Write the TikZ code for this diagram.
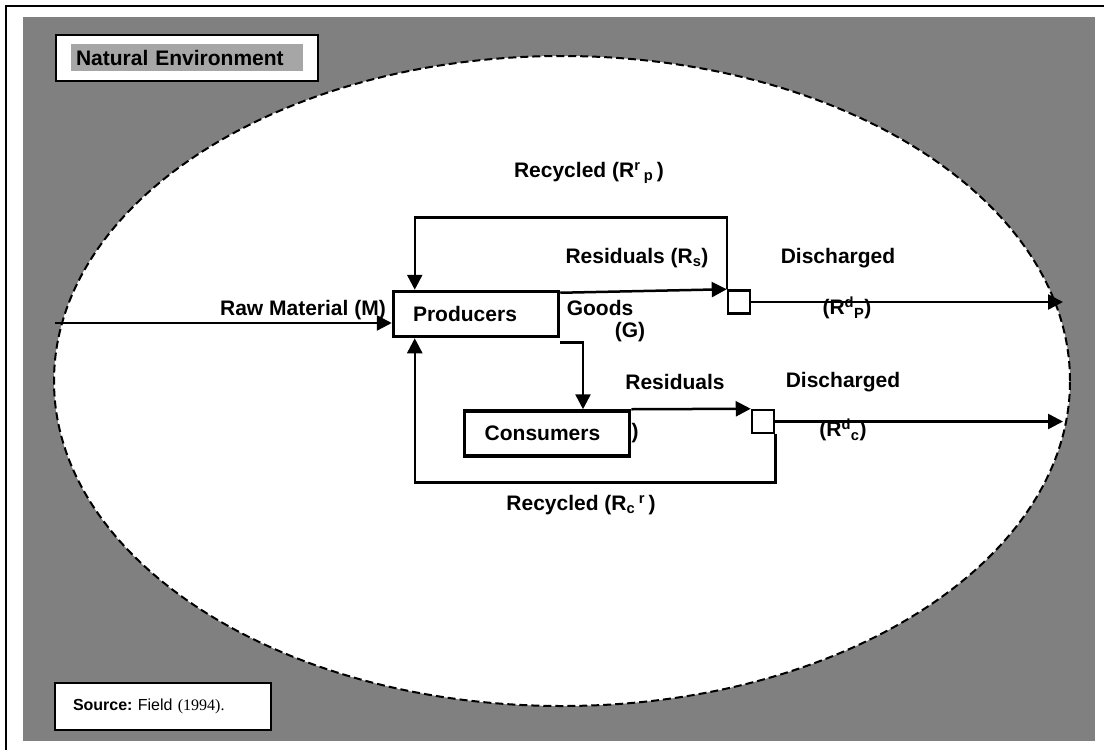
\documentclass[tikz,border=0pt]{standalone}
\usepackage{fontspec}
\setmainfont{Liberation Sans}
\newfontfamily\timesfont{Liberation Serif}
\usetikzlibrary{arrows.meta}
\definecolor{envgray}{HTML}{808080}
\definecolor{tabgray}{HTML}{A6A6A6}
\begin{document}
\begin{tikzpicture}[x=1pt,y=-1pt,
    lbl/.style={font=\fontsize{21}{24}\selectfont\bfseries,inner sep=0pt},
    unit/.style={draw,line width=3.5pt,fill=white,minimum width=165pt,minimum height=45pt,inner sep=0pt,font=\fontsize{21}{24}\selectfont\bfseries},
    junction/.style={draw,line width=2.5pt,fill=white,minimum width=22pt,minimum height=23pt,inner sep=0pt},
    flow/.style={line width=2.5pt,-{Triangle[length=15pt,width=15pt]}},
    link/.style={line width=2.5pt}]
      \useasboundingbox (0,0) rectangle (1104,750);
      \fill[white] (0,0) rectangle (1104,750);
      \draw[line width=2.5pt] (6,760) -- (6,6) -- (1110,6);
      \fill[envgray] (23,17) rectangle (1095,741);
      \draw[dash pattern=on 8pt off 4pt,line width=2pt,fill=white] (562,381) ellipse [x radius=508pt,y radius=325pt];
      % boxes
      \node[draw,line width=2.5pt,fill=white,minimum width=262pt,minimum height=46pt] (envbox) at (187,58) {};
      \node[fill=tabgray,minimum width=232pt,minimum height=27pt,text width=222pt,inner xsep=5pt,inner ysep=0pt,align=left,lbl] (envlabel) at (187,57.5) {Natural Environment};
      \node[draw,line width=2pt,fill=white,minimum width=215pt,minimum height=47pt,text width=180pt,inner xsep=18pt,align=left,font=\fontsize{16}{19}\selectfont] (source) at (163,706) {\textbf{Source:}\ Field {\timesfont(1994).}};
      \node[unit] (prod) at (476,314) {Producers\hspace*{22pt}};
      \node[unit] (cons) at (547,433.5) {Consumers\hspace*{9pt}};
      \node[junction] (jp) at (739,302) {};
      \node[junction] (jc) at (763,421.5) {};
      \coordinate (rawin) at (55,323);
      \coordinate (outp) at (1063,302);
      \coordinate (outc) at (1063,421.5);
      % flows
      \draw[flow] (rawin) -- (rawin -| prod.west);
      \draw[flow] ([yshift=-3pt]prod.north east) -- (jp.north west);
      \draw[flow] (jp.north west) -- ++(0,-72) -| ([xshift=23pt]prod.north west);
      \draw[flow] (jp.east) -- (outp);
      \draw[flow] ([yshift=-4pt]prod.south east) -| ([xshift=36pt]cons.north);
      \draw[flow] (cons.north east) -- (jc.north west);
      \draw[flow] (jc.east) -- (outc);
      \draw[flow] (jc.south east) -- ++(0,48) -| ([xshift=23pt]prod.south west);
      % labels
      \node[lbl,anchor=east] (rawlbl) at (386,310) {Raw Material (M)};
      \node[lbl] (recp) at (589,173) {Recycled (R\textsuperscript{r}\,\textsubscript{p}\,)};
      \node[lbl] (resp) at (637,258) {Residuals (R\textsubscript{s})};
      \node[lbl] (goods) at (600,308) {Goods};
      \node[lbl] (goodsg) at (630,332) {(G)};
      \node[lbl] (disp) at (838,258) {Discharged};
      \node[lbl] (dispr) at (847,308) {(R\textsuperscript{d}\textsubscript{P})};
      \node[lbl] (resc) at (675,382) {Residuals};
      \node[lbl] (disc) at (843,382) {Discharged};
      \node[lbl] (discr) at (843,430) {(R\textsuperscript{d}\textsubscript{c})};
      \node[lbl] (stray) at (635,433) {)};
      \node[lbl] (recc) at (581,505) {Recycled (R\textsubscript{c}\,\textsuperscript{r}\,)};
    \end{tikzpicture}
\end{document}
